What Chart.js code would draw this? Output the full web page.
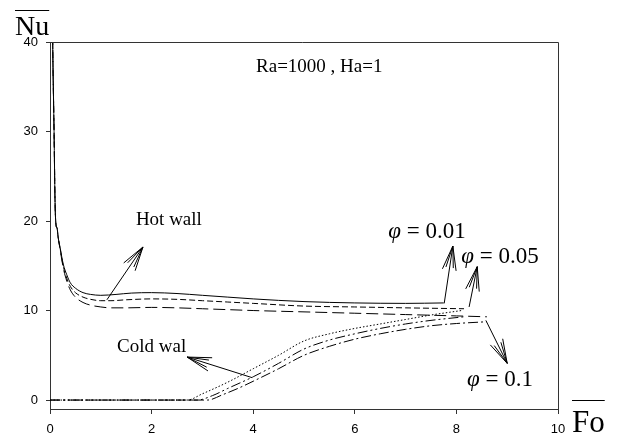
<!DOCTYPE html>
<html>
<head>
<meta charset="utf-8">
<script src="https://cdn.jsdelivr.net/npm/chart.js@4.4.1/dist/chart.umd.min.js"></script>
<style>
html,body{margin:0;padding:0;background:#fff;}
#wrap{width:617px;height:436px;position:relative;}
</style>
</head>
<body>
<div id="wrap"><canvas id="c" width="617" height="436"></canvas></div>
<script>
// ---- tick labels ----
const xTicks = [0, 2, 4, 6, 8, 10];
const yTicks = [0, 10, 20, 30, 40];

// ---- Hot wall ----
const hot001X = [0.03,0.05,0.08,0.10,0.12,0.14,0.16,0.20,0.26,0.33,0.40,0.50,0.65,0.80,1.0,1.3,1.6,2.0,2.5,3.0,3.5,4.0,5.0,6.0,7.0,7.75];
const hot001Y = [60,42,30,22,19.5,19.2,18.2,17.0,15.2,14.0,13.1,12.5,12.0,11.8,11.7,11.8,11.95,12.0,11.9,11.7,11.5,11.3,11.0,10.85,10.8,10.85];
const hot005X = [0.03,0.05,0.08,0.10,0.12,0.14,0.16,0.20,0.26,0.33,0.40,0.50,0.65,0.80,1.0,1.2,1.5,2.0,2.5,3.0,3.5,4.0,5.0,6.0,7.0,8.15];
const hot005Y = [60,42,30,22,19.5,19.2,18.2,16.9,15.0,13.6,12.7,12.0,11.5,11.25,11.1,11.1,11.2,11.3,11.25,11.1,10.95,10.8,10.5,10.4,10.3,10.2];
const hot01X  = [0.03,0.05,0.08,0.10,0.12,0.14,0.16,0.20,0.26,0.33,0.40,0.50,0.65,0.80,1.0,1.2,1.5,2.0,2.5,3.0,3.5,4.0,5.0,6.0,7.0,8.0,8.6];
const hot01Y  = [60,42,30,22,19.5,19.2,18.2,16.8,14.8,13.3,12.3,11.5,10.9,10.6,10.4,10.3,10.3,10.35,10.3,10.2,10.1,10.0,9.85,9.7,9.55,9.4,9.3];

// ---- Cold wall ----
const cold001X = [0,1,2,2.7,3.0,3.5,4.0,4.5,5.0,5.5,6.0,6.5,7.0,7.5,8.1];
const cold001Y = [0,0,0,0,0.7,2.0,3.5,5.0,6.6,7.4,8.0,8.5,9.0,9.5,10.0];
const cold005X = [0,1,2,2.9,3.2,3.5,4.0,4.5,5.0,5.5,6.0,6.5,7.0,7.5,8.15];
const cold005Y = [0,0,0,0,0.5,1.3,2.6,4.1,5.7,6.7,7.4,8.0,8.5,8.9,9.3];
const cold01X  = [0,1,2,3.1,3.4,3.7,4.0,4.5,5.0,5.5,6.0,6.5,7.0,7.5,8.0,8.6];
const cold01Y  = [0,0,0,0,0.6,1.3,2.1,3.5,5.0,6.0,6.8,7.4,7.9,8.3,8.55,8.75];

// ---- annotations (data coordinates) ----
const arrowFrom = [[1.12,11.2],[3.98,2.5],[7.76,10.8],[8.25,10.4],[8.58,8.9]];
const arrowTo   = [[1.83,17.1],[2.70,4.8],[7.93,17.2],[8.41,14.9],[9.0,4.1]];
const noteText  = ["Ra=1000 , Ha=1", "Hot wall", "Cold wal"];
const noteAt    = [[5.3,37.2],[2.34,20.1],[2.0,5.9]];
const phiText   = ["0.01", "0.05", "0.1"];
const phiAt     = [[7.42,18.8],[8.86,16.0],[8.86,2.2]];

function pts(xs, ys){ return xs.map((x,i)=>({x:x, y:ys[i]})); }

function ds(xs, ys, dash){
  return {data: pts(xs, ys), borderColor:'#000', borderWidth:1, borderDash:dash,
          pointRadius:0, fill:false, cubicInterpolationMode:'monotone'};
}

const datasets = [
  ds(hot001X, hot001Y, []),
  ds(hot005X, hot005Y, [6,3]),
  ds(hot01X, hot01Y, [12,5]),
  ds(cold001X, cold001Y, [1.5,2]),
  ds(cold005X, cold005Y, [10,3,2,3,2,3]),
  ds(cold01X, cold01Y, [10,3,2,3])
];

const SERIF = '"Liberation Serif", "Times New Roman", serif';

const decor = {
  id:'decor',
  afterDatasetsDraw(chart){
    const ctx = chart.ctx, a = chart.chartArea;
    const xs = chart.scales.x, ys = chart.scales.y;
    ctx.save();
    // frame top/right
    ctx.strokeStyle = '#333'; ctx.lineWidth = 1; ctx.setLineDash([]);
    ctx.beginPath();
    ctx.moveTo(a.left - 4, a.top + 0.5); ctx.lineTo(a.right + 0.5, a.top + 0.5);
    ctx.lineTo(a.right + 0.5, a.bottom);
    ctx.stroke();
    // arrows
    ctx.strokeStyle = '#000';
    arrowFrom.forEach((f,i)=>{
      const t = arrowTo[i];
      const x0 = xs.getPixelForValue(f[0]), y0 = ys.getPixelForValue(f[1]);
      const x1 = xs.getPixelForValue(t[0]), y1 = ys.getPixelForValue(t[1]);
      const ang = Math.atan2(y0 - y1, x0 - x1);
      ctx.beginPath(); ctx.moveTo(x0,y0); ctx.lineTo(x1,y1); ctx.stroke();
      [-0.28, 0.28, -0.17, 0.17].forEach((d,k)=>{
        const L = k < 2 ? 25 : 22;
        ctx.beginPath(); ctx.moveTo(x1,y1);
        ctx.lineTo(x1 + L*Math.cos(ang+d), y1 + L*Math.sin(ang+d)); ctx.stroke();
      });
    });
    // notes
    ctx.fillStyle = '#000'; ctx.textBaseline = 'middle'; ctx.textAlign = 'center';
    noteText.forEach((s,i)=>{
      ctx.font = '19px ' + SERIF;
      ctx.fillText(s, xs.getPixelForValue(noteAt[i][0]), ys.getPixelForValue(noteAt[i][1]));
    });
    // phi labels
    ctx.textAlign = 'left';
    phiText.forEach((s,i)=>{
      const cx = xs.getPixelForValue(phiAt[i][0]), cy = ys.getPixelForValue(phiAt[i][1]);
      ctx.font = 'italic 23px ' + SERIF;
      const w1 = ctx.measureText('\u03C6').width;
      ctx.font = '23px ' + SERIF;
      const rest = ' = ' + s;
      const w2 = ctx.measureText(rest).width;
      const x = cx - (w1 + w2)/2;
      ctx.font = 'italic 23px ' + SERIF;
      ctx.fillText('\u03C6', x, cy);
      ctx.font = '23px ' + SERIF;
      ctx.fillText(rest, x + w1, cy);
    });
    // axis titles with overline
    ctx.textBaseline = 'alphabetic';
    ctx.font = '28px ' + SERIF;
    const nuW = ctx.measureText('Nu').width;
    ctx.fillText('Nu', 15, 35);
    ctx.font = '31px ' + SERIF;
    const foW = ctx.measureText('Fo').width;
    ctx.fillText('Fo', 572, 432);
    ctx.strokeStyle = '#000'; ctx.lineWidth = 1;
    ctx.beginPath();
    ctx.moveTo(15, 10.5); ctx.lineTo(15 + nuW, 10.5);
    ctx.moveTo(572, 400.5); ctx.lineTo(572 + foW, 400.5);
    ctx.stroke();
    ctx.restore();
  }
};

new Chart(document.getElementById('c'), {
  type:'line',
  data:{datasets},
  options:{
    responsive:false, animation:false,
    layout:{padding:{left:0, top:42, right:59, bottom:0}},
    plugins:{legend:{display:false}, tooltip:{enabled:false}},
    scales:{
      x:{type:'linear', min:0, max:10,
        afterBuildTicks(s){ s.ticks = xTicks.map(v=>({value:v})); },
        afterFit(s){ s.height = 27; },
        grid:{drawOnChartArea:false, drawTicks:true, tickLength:5, color:'#333'},
        border:{display:true, color:'#333', width:1},
        ticks:{color:'#000', padding:8, maxRotation:0, autoSkip:false,
               font:{family:'"Liberation Sans", Arial, sans-serif', size:13}}
      },
      y:{type:'linear', min:-1, max:40,
        afterBuildTicks(s){ s.ticks = yTicks.map(v=>({value:v})); },
        afterFit(s){ s.width = 50; },
        grid:{drawOnChartArea:false, drawTicks:true, tickLength:4, color:'#333'},
        border:{display:true, color:'#333', width:1},
        ticks:{color:'#000', padding:8, autoSkip:false,
               font:{family:'"Liberation Sans", Arial, sans-serif', size:13}}
      }
    }
  },
  plugins:[decor]
});
</script>
</body>
</html>
